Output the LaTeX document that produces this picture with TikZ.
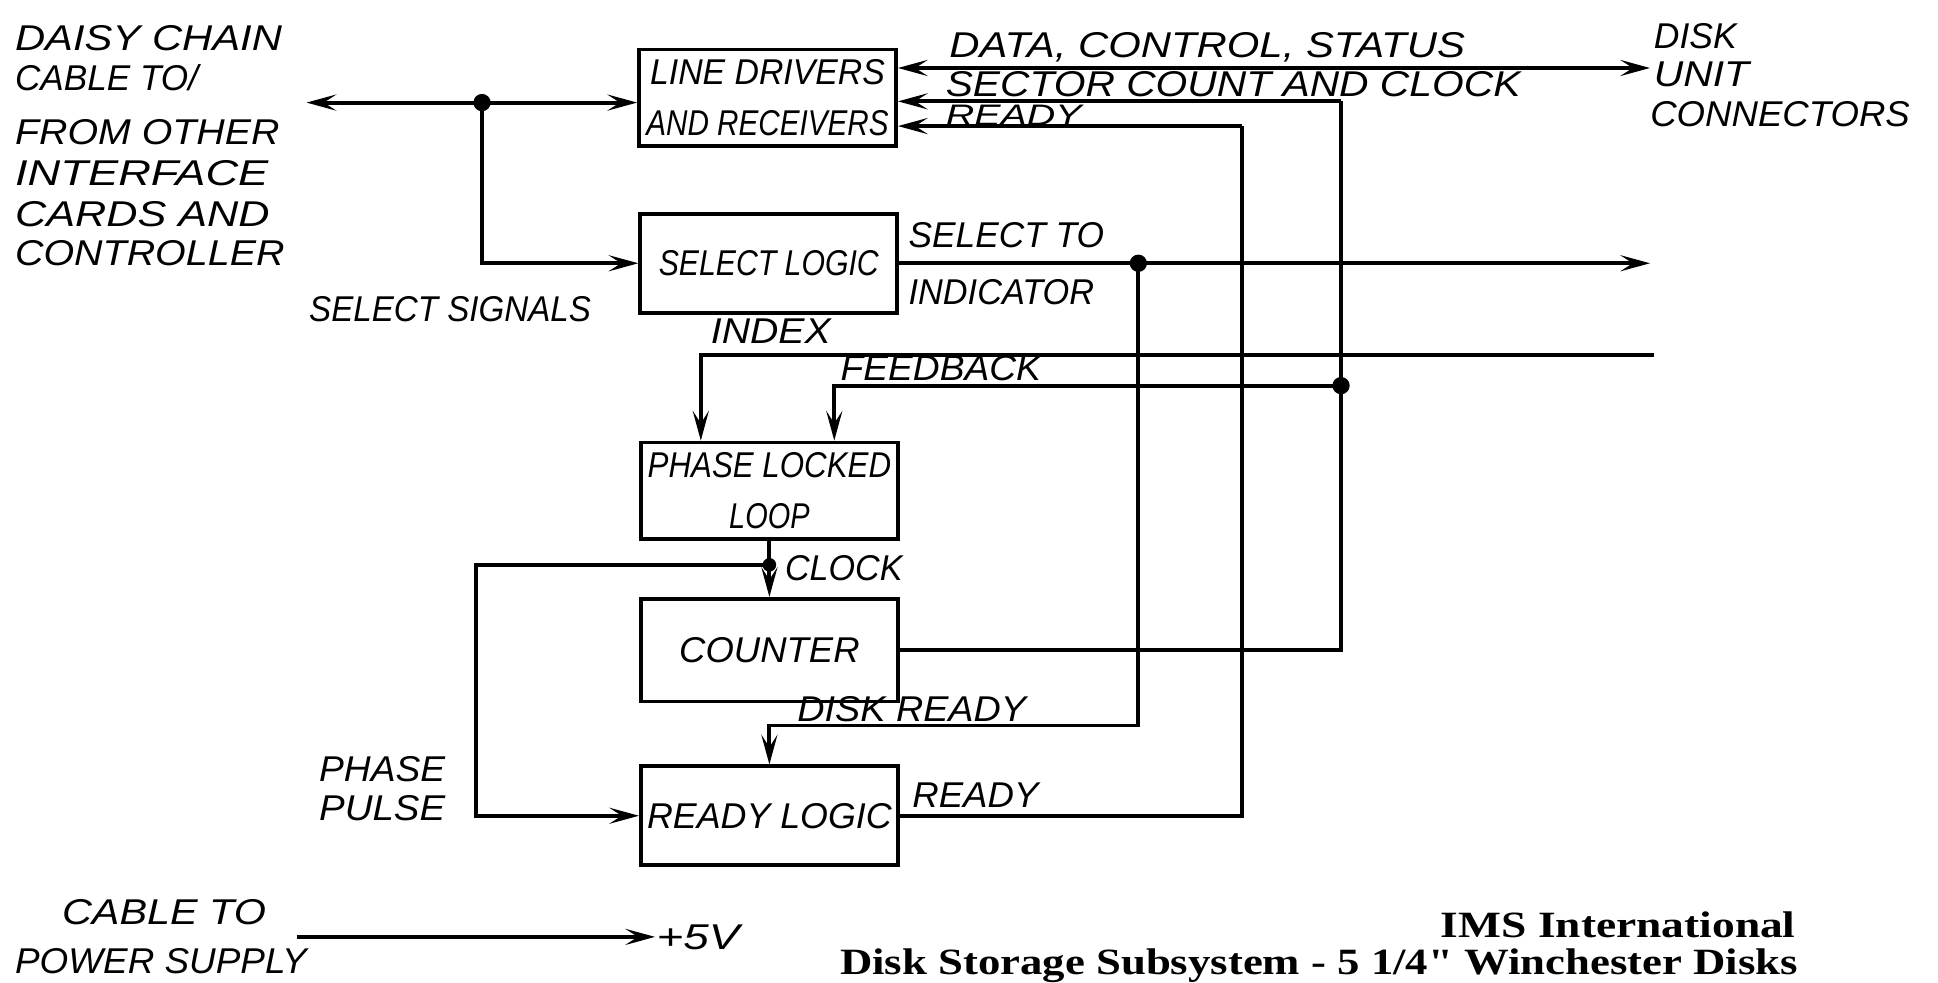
\documentclass[tikz,border=0pt]{standalone}
\usepackage{fontspec}
\usepackage{graphicx}
\usetikzlibrary{arrows.meta,calc}
\newfontfamily\hand{Liberation Sans}
\newfontfamily\titlefont{Liberation Serif}
\newcommand\fw[2]{\resizebox{#1pt}{\height}{#2}}
\tikzset{
  wire/.style={line width=3.1pt, line join=miter},
  tip/.tip={Stealth[length=24pt,width=13pt,inset=10pt]},
  arr/.style={wire, -tip},
  darr/.style={wire, tip-tip},
  blk/.style={draw, line width=3pt, minimum width=208pt, inner sep=2pt, align=center,
     font=\hand\itshape\fontsize{29}{42}\selectfont},
  lbl/.style={inner sep=0pt, anchor=west, font=\hand\itshape\fontsize{29}{32}\selectfont},
  dotc/.style={circle, fill=black, minimum size=14pt, inner sep=0pt},
}
\begin{document}
\begin{tikzpicture}[x=1pt,y=-1pt]
\useasboundingbox (0,0) rectangle (1568,795);

% blocks
\node[blk, minimum height=78pt] (ld) at (621,79) {\fw{190}{LINE DRIVERS}\\\fw{196}{AND RECEIVERS}};
\node[blk, minimum height=80pt] (sl) at (622,213) {\fw{178}{SELECT LOGIC}};
\node[blk, minimum height=78pt] (pll) at (622.5,397) {\fw{197}{PHASE LOCKED}\\\fw{65}{LOOP}};
\node[blk, minimum height=83pt] (cnt) at (622.5,526) {\fw{146}{COUNTER}};
\node[blk, minimum height=80pt] (rl) at (622.5,660) {\fw{198}{READY LOGIC}};

% coordinates
\coordinate (busL) at (248,83);
\node[dotc] (j1) at (390,83) {};
\coordinate (dR) at (1335,55);
\coordinate (sc) at (1085,82);
\coordinate (rd) at (1005,102);
\coordinate (so) at (1335,213);
\node[dotc] (j2) at (921,213) {};
\coordinate (dr) at (622.5,587);
\coordinate (ix) at (1338,287);
\coordinate (ixL) at (567,287);
\node[dotc] (j3) at (1085,312) {};
\coordinate (fbL) at (675,312);
\node[dotc, minimum size=11pt] (j4) at (622.5,457) {};
\coordinate (pp) at (385,457);
\coordinate (pw1) at (240,758);
\coordinate (pw2) at (530,758);

% bus
\draw[arr] (j1.center) -- (busL);
\draw[arr] (j1.center) -- (j1 -| ld.west);
\draw[arr] (j1.center) |- (sl.west);

% to disk unit
\draw[darr] (ld.east |- dR) -- (dR);
\draw[arr] (sc) -- (sc -| ld.east);
\draw[wire] (sc) |- (cnt.east);
\draw[arr] (rd) -- (rd -| ld.east);
\draw[wire] (rd) |- (rl.east);

% select
\draw[arr] (sl.east) -- (so);
\draw[arr] (j2.center) |- (dr) -- (rl.north);

% index, feedback
\draw[arr] (ix) -- (ixL) -- (ixL |- pll.north);
\draw[arr] (j3.center) -- (fbL) -- (fbL |- pll.north);

% clock, phase pulse
\draw[arr] (pll.south) -- (cnt.north);
\draw[arr] (j4.center) -- (pp) |- (rl.west);

% power
\draw[arr] (pw1) -- (pw2);

% labels
\node[lbl] (t1) at (12,31) {\fw{216}{DAISY CHAIN}};
\node[lbl] (t2) at (12,63) {\fw{148}{CABLE TO/}};
\node[lbl] (t3) at (12,107) {\fw{214}{FROM OTHER}};
\node[lbl] (t4) at (12,140) {\fw{205}{INTERFACE}};
\node[lbl] (t5) at (12,173) {\fw{206}{CARDS AND}};
\node[lbl] (t6) at (12,205) {\fw{218}{CONTROLLER}};
\node[lbl] (ss) at (250,250) {\fw{228}{SELECT SIGNALS}};
\node[lbl] (l1) at (768,38.5) {\fw{417}{DATA, CONTROL, STATUS}};
\node[lbl] (l2) at (765,68) {\fw{465}{SECTOR COUNT AND CLOCK}};
\node[lbl, font=\hand\itshape\fontsize{24}{28}\selectfont] (l3) at (765,93.5) {\fw{110}{READY}};
\node[lbl] (du1) at (1338,29) {\fw{67}{DISK}};
\node[lbl] (du2) at (1338,60) {\fw{77}{UNIT}};
\node[lbl] (du3) at (1335,92) {\fw{210}{CONNECTORS}};
\node[lbl] (st) at (735,190) {\fw{158}{SELECT TO}};
\node[lbl] (ind) at (735,236) {\fw{150}{INDICATOR}};
\node[lbl] (ixl) at (575,268) {\fw{97}{INDEX}};
\node[lbl] (fbl) at (680,298) {\fw{162}{FEEDBACK}};
\node[lbl] (clk) at (635,460) {\fw{95}{CLOCK}};
\node[lbl] (dsk) at (645,574) {\fw{185}{DISK READY}};
\node[lbl] (rdy) at (738,643) {\fw{102}{READY}};
\node[lbl] (ph1) at (258,622) {\fw{102}{PHASE}};
\node[lbl] (ph2) at (258,654) {\fw{102}{PULSE}};
\node[lbl] (cb1) at (50,738) {\fw{165}{CABLE TO}};
\node[lbl] (cb2) at (12,778) {\fw{236}{POWER SUPPLY}};
\node[lbl] (v5) at (531,758) {\fw{67}{+5V}};

\node[inner sep=0pt, anchor=east, font=\titlefont\bfseries\fontsize{30}{32}\selectfont] (ims) at (1453,748) {\fw{287}{IMS International}};
\node[inner sep=0pt, anchor=east, font=\titlefont\bfseries\fontsize{30}{32}\selectfont] (sub) at (1455,781) {\fw{775}{Disk Storage Subsystem - 5 1/4" Winchester Disks}};
\end{tikzpicture}
\end{document}
